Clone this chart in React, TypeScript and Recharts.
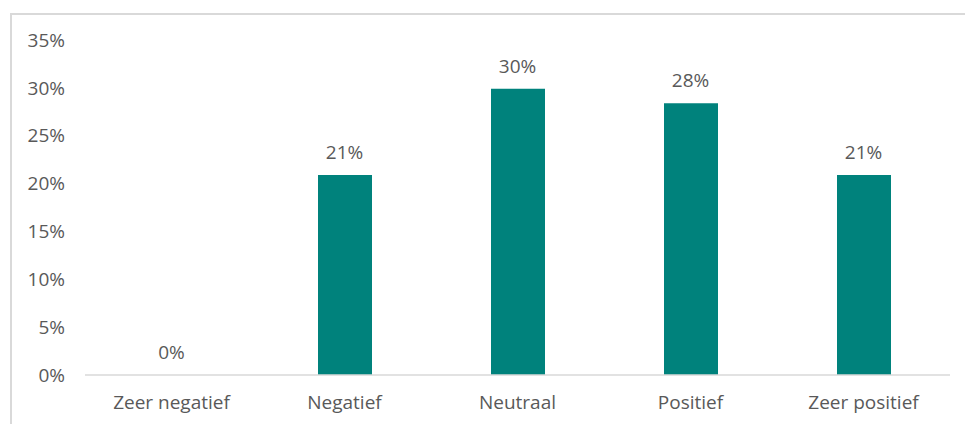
import React from "react";
import { ComposedChart, Bar, Line, XAxis, YAxis, LabelList } from "recharts";

const categories = ["Zeer negatief", "Negatief", "Neutraal", "Positief", "Zeer positief"];
const values = [0, 20.9, 29.9, 28.4, 20.9];
const valueLabels = ["0%", "21%", "30%", "28%", "21%"];
const yTicks = [0, 5, 10, 15, 20, 25, 30, 35];

const data = categories.map((c, i) => ({ name: c, value: values[i], label: valueLabels[i] }));

const FONT = "'Open Sans', 'Noto Sans', sans-serif";
const TEXT = "#595959";
const FS = 19;

export default function App() {
  return (
    <div style={{ position: "absolute", left: 0, top: 0, width: 965, height: 424, overflow: "hidden", background: "#fff" }}>
      <div
        style={{
          position: "absolute",
          left: 10,
          top: 13,
          width: 1000,
          height: 500,
          border: "2px solid #d9d9d9",
          boxSizing: "border-box",
        }}
      />
      <div style={{ position: "absolute", left: 0, top: 0 }}>
        <ComposedChart
          width={965}
          height={424}
          data={data}
          margin={{ top: 40, right: 15, bottom: 0, left: 0 }}
          barCategoryGap={0}
        >
          <XAxis
            dataKey="name"
            height={49}
            axisLine={{ stroke: "#d9d9d9", strokeWidth: 1.5 }}
            tickLine={false}
            tickSize={0}
            tickMargin={21}
            tick={{ fill: TEXT, fontSize: FS, fontFamily: FONT }}
            interval={0}
          />
          <YAxis
            width={85}
            domain={[0, 35]}
            ticks={yTicks}
            tickFormatter={(v: number) => `${v}%`}
            axisLine={false}
            tickLine={false}
            tickSize={0}
            tickMargin={20}
            tick={{ fill: TEXT, fontSize: FS, fontFamily: FONT }}
            interval={0}
          />
          <Bar dataKey="value" fill="#00827C" barSize={54} isAnimationActive={false} />
          <Line
            dataKey="value"
            stroke="none"
            dot={false}
            activeDot={false}
            isAnimationActive={false}
          >
            <LabelList
              dataKey="label"
              position="top"
              offset={16}
              style={{ fill: TEXT, fontSize: FS, fontFamily: FONT }}
            />
          </Line>
        </ComposedChart>
      </div>
    </div>
  );
}
